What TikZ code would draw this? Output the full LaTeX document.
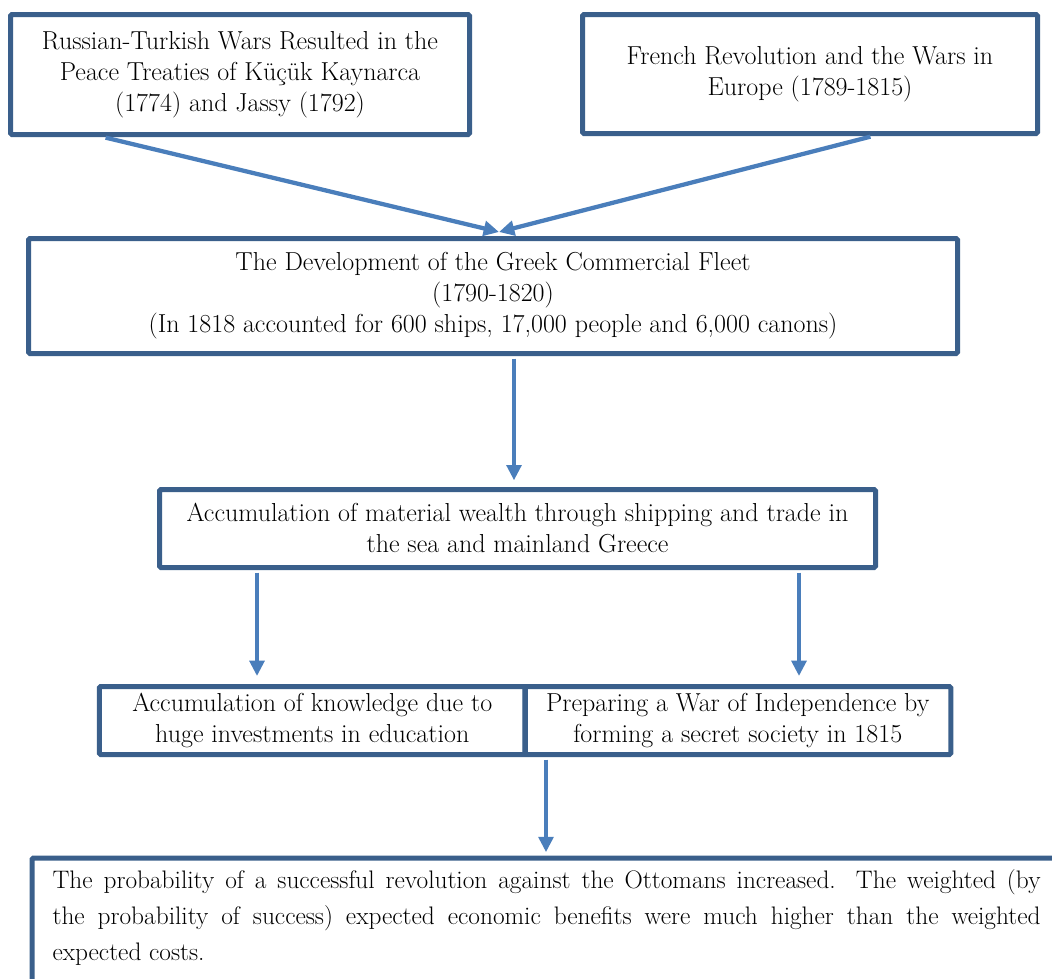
\documentclass[tikz,border=0pt]{standalone}
\usetikzlibrary{arrows.meta}
\definecolor{boxblue}{HTML}{3A5F8B}
\definecolor{arrowblue}{HTML}{4A7EBB}
\begin{document}
\begin{tikzpicture}[x=0.75pt,y=-0.75pt,
  box/.style={draw=boxblue, line width=3.75pt, rounded corners=1pt, align=center, inner sep=0pt, font=\fontsize{19.5}{23.25}\selectfont},
  arr/.style={draw=arrowblue, line width=3.2pt, -{Triangle[width=11pt,length=11.5pt]}}]
\clip (0,0) rectangle (1052,978);

\node[box, minimum width=344.25pt, minimum height=90pt] (wars) at (240,74.5) {Russian-Turkish Wars Resulted in the\\Peace Treaties of Küçük Kaynarca\\(1774) and Jassy (1792)};
\node[box, minimum width=341.25pt, minimum height=89.25pt] (revolution) at (810,74) {French Revolution and the Wars in\\Europe (1789-1815)};

\node[box, minimum width=696.75pt, minimum height=86.25pt] (fleet) at (493,296) {The Development of the Greek Commercial Fleet\\(1790-1820)\\(In 1818 accounted for 600 ships, 17,000 people and 6,000 canons)};

\node[box, minimum width=537pt, minimum height=58.5pt] (wealth) at (517.5,528.5) {Accumulation of material wealth through shipping and trade in\\the sea and mainland Greece};

\node[box, minimum width=319.5pt, minimum height=51pt] (knowledge) at (312.25,720.5) {Accumulation of knowledge due to\\huge investments in education};
\node[box, minimum width=319.5pt, minimum height=51pt] (society) at (737.75,720.5) {Preparing a War of Independence by\\forming a secret society in 1815};

\node[box, anchor=north west, align=justify, text width=741pt, text depth=80pt, inner xsep=15.4pt, inner ysep=9pt, font=\fontsize{19}{27}\selectfont] (odds) at (29.5,855.5) {The probability of a successful revolution against the Ottomans increased. The weighted (by\linebreak the probability of success) expected economic benefits were much higher than the weighted\linebreak expected costs.};

\coordinate (merge) at (499,232);
\draw[arr, shorten <=2pt] (103,0 |- wars.south) -- (merge);
\draw[arr, shorten <=2pt] (873,0 |- revolution.south) -- (merge);

\draw[arr, shorten <=2pt, shorten >=5pt] (514,0 |- fleet.south) -- (514,0 |- wealth.north);
\draw[arr, shorten <=2pt, shorten >=6pt] (257,0 |- wealth.south) -- (257,0 |- knowledge.north);
\draw[arr, shorten <=2pt, shorten >=6pt] (799,0 |- wealth.south) -- (799,0 |- society.north);
\draw[arr, shorten <=2pt, shorten >=2.5pt] (546,0 |- society.south) -- (546,0 |- odds.north);
\end{tikzpicture}
\end{document}
